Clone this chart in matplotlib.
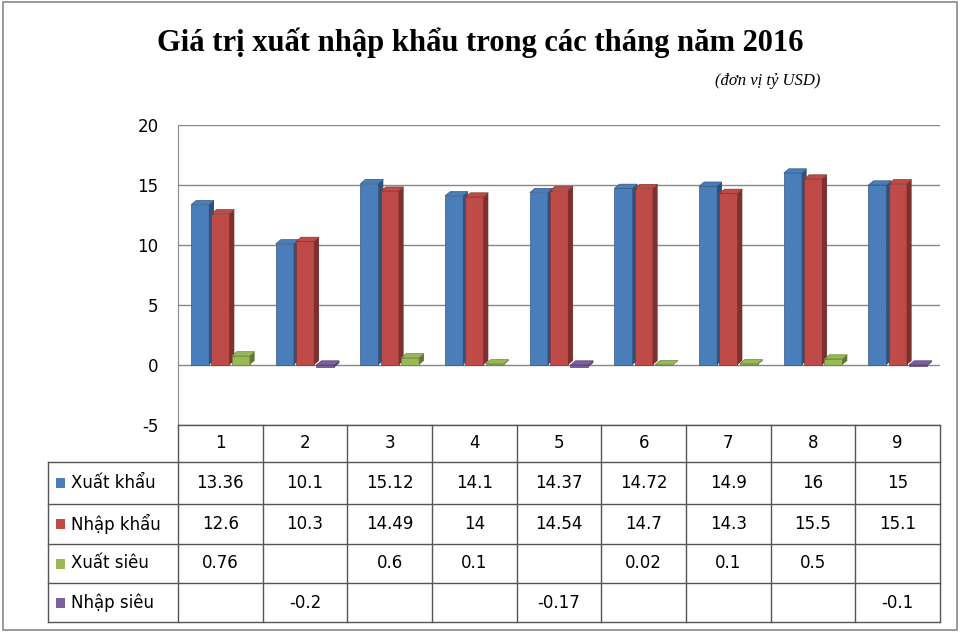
import matplotlib
matplotlib.use("Agg")
import matplotlib.pyplot as plt
from matplotlib.patches import Polygon, Rectangle
import numpy as np
plt.rcParams["axes.unicode_minus"] = False

months = ["1","2","3","4","5","6","7","8","9"]
xuat = [13.36,10.1,15.12,14.1,14.37,14.72,14.9,16,15]
nhap = [12.6,10.3,14.49,14,14.54,14.7,14.3,15.5,15.1]
xsieu = [0.76,None,0.6,0.1,None,0.02,0.1,0.5,None]
nsieu = [None,-0.2,None,None,-0.17,None,None,None,-0.1]
series = [("Xuất khẩu", xuat, "#4a7ebb"), ("Nhập khẩu", nhap, "#be4b48"),
          ("Xuất siêu", xsieu, "#98b954"), ("Nhập siêu", nsieu, "#7d60a0")]
yticks = [-5,0,5,10,15,20]

fig = plt.figure(figsize=(9.6,6.32), dpi=100)
fig.patches.append(Rectangle((0.003,0.003),0.994,0.994, transform=fig.transFigure, fill=False, ec="#888888", lw=1.2))
fig.text(0.5,0.932,"Giá trị xuất nhập khẩu trong các tháng năm 2016", ha="center", va="center",
         fontsize=22, fontweight="bold", family="Liberation Serif")
fig.text(0.855,0.872,"(đơn vị tỷ USD)", ha="right", va="center", fontsize=12, style="italic", family="Liberation Serif")

L, R = 178/960, 940/960
B, T = 1-425/632, 1-125/632
ax = fig.add_axes([L,B,R-L,T-B])
ax.set_xlim(0,len(months)); ax.set_ylim(-5,20)
for y in yticks:
    ax.axhline(y,color="#888888",lw=1,zorder=0)
ax.set_yticks(yticks); ax.set_xticks([])
ax.tick_params(axis="y", labelsize=12, length=0, pad=14)
for s in ["top","right","bottom"]:
    ax.spines[s].set_visible(False)
ax.spines["left"].set_color("#888888")

def darker(c,f):
    c = matplotlib.colors.to_rgb(c); return tuple(v*f for v in c)

offs = [-0.24,0.0,0.24,0.24]
w=0.21; dx=0.06; dy=0.35
for (name, vals, col), off in zip(series, offs):
    for i,v in enumerate(vals):
        if v is None: continue
        x0 = i+0.5+off-w/2
        lo, hi = min(0,v), max(0,v)
        ax.add_patch(Rectangle((x0,lo),w,hi-lo,fc=col,ec=darker(col,0.7),lw=0.5,zorder=3))
        ax.add_patch(Polygon([(x0+w,lo),(x0+w+dx,lo+dy),(x0+w+dx,hi+dy),(x0+w,hi)],fc=darker(col,0.65),ec="none",zorder=3))
        ax.add_patch(Polygon([(x0,hi),(x0+dx,hi+dy),(x0+w+dx,hi+dy),(x0+w,hi)],fc=col,ec=darker(col,0.7),lw=0.5,zorder=4))

# data table
tx = fig.add_axes([0,0,1,1]); tx.set_xlim(0,960); tx.set_ylim(632,0); tx.axis("off")
x_left=48; cw=(940-178)/9
rows_y=[425,462,504,544,583,622]
lc="#555555"
for j in range(10):
    tx.plot([178+j*cw]*2,[rows_y[0],rows_y[-1]],color=lc,lw=1)
tx.plot([178,940],[rows_y[0]]*2,color=lc,lw=1)
for y in rows_y[1:]:
    tx.plot([x_left,940],[y,y],color=lc,lw=1)
tx.plot([x_left,x_left],[rows_y[1],rows_y[-1]],color=lc,lw=1)
for j,m in enumerate(months):
    tx.text(178+(j+0.5)*cw,(rows_y[0]+rows_y[1])/2,m,ha="center",va="center",fontsize=12)
for r,(name,vals,col) in enumerate(series):
    yc=(rows_y[r+1]+rows_y[r+2])/2
    tx.add_patch(Rectangle((56,yc-5),9,10,fc=col,ec="none"))
    tx.text(71,yc,name,ha="left",va="center",fontsize=12)
    for j,v in enumerate(vals):
        if v is None: continue
        tx.text(178+(j+0.5)*cw,yc,f"{v:g}",ha="center",va="center",fontsize=12)
fig.savefig("out.png",dpi=100)
